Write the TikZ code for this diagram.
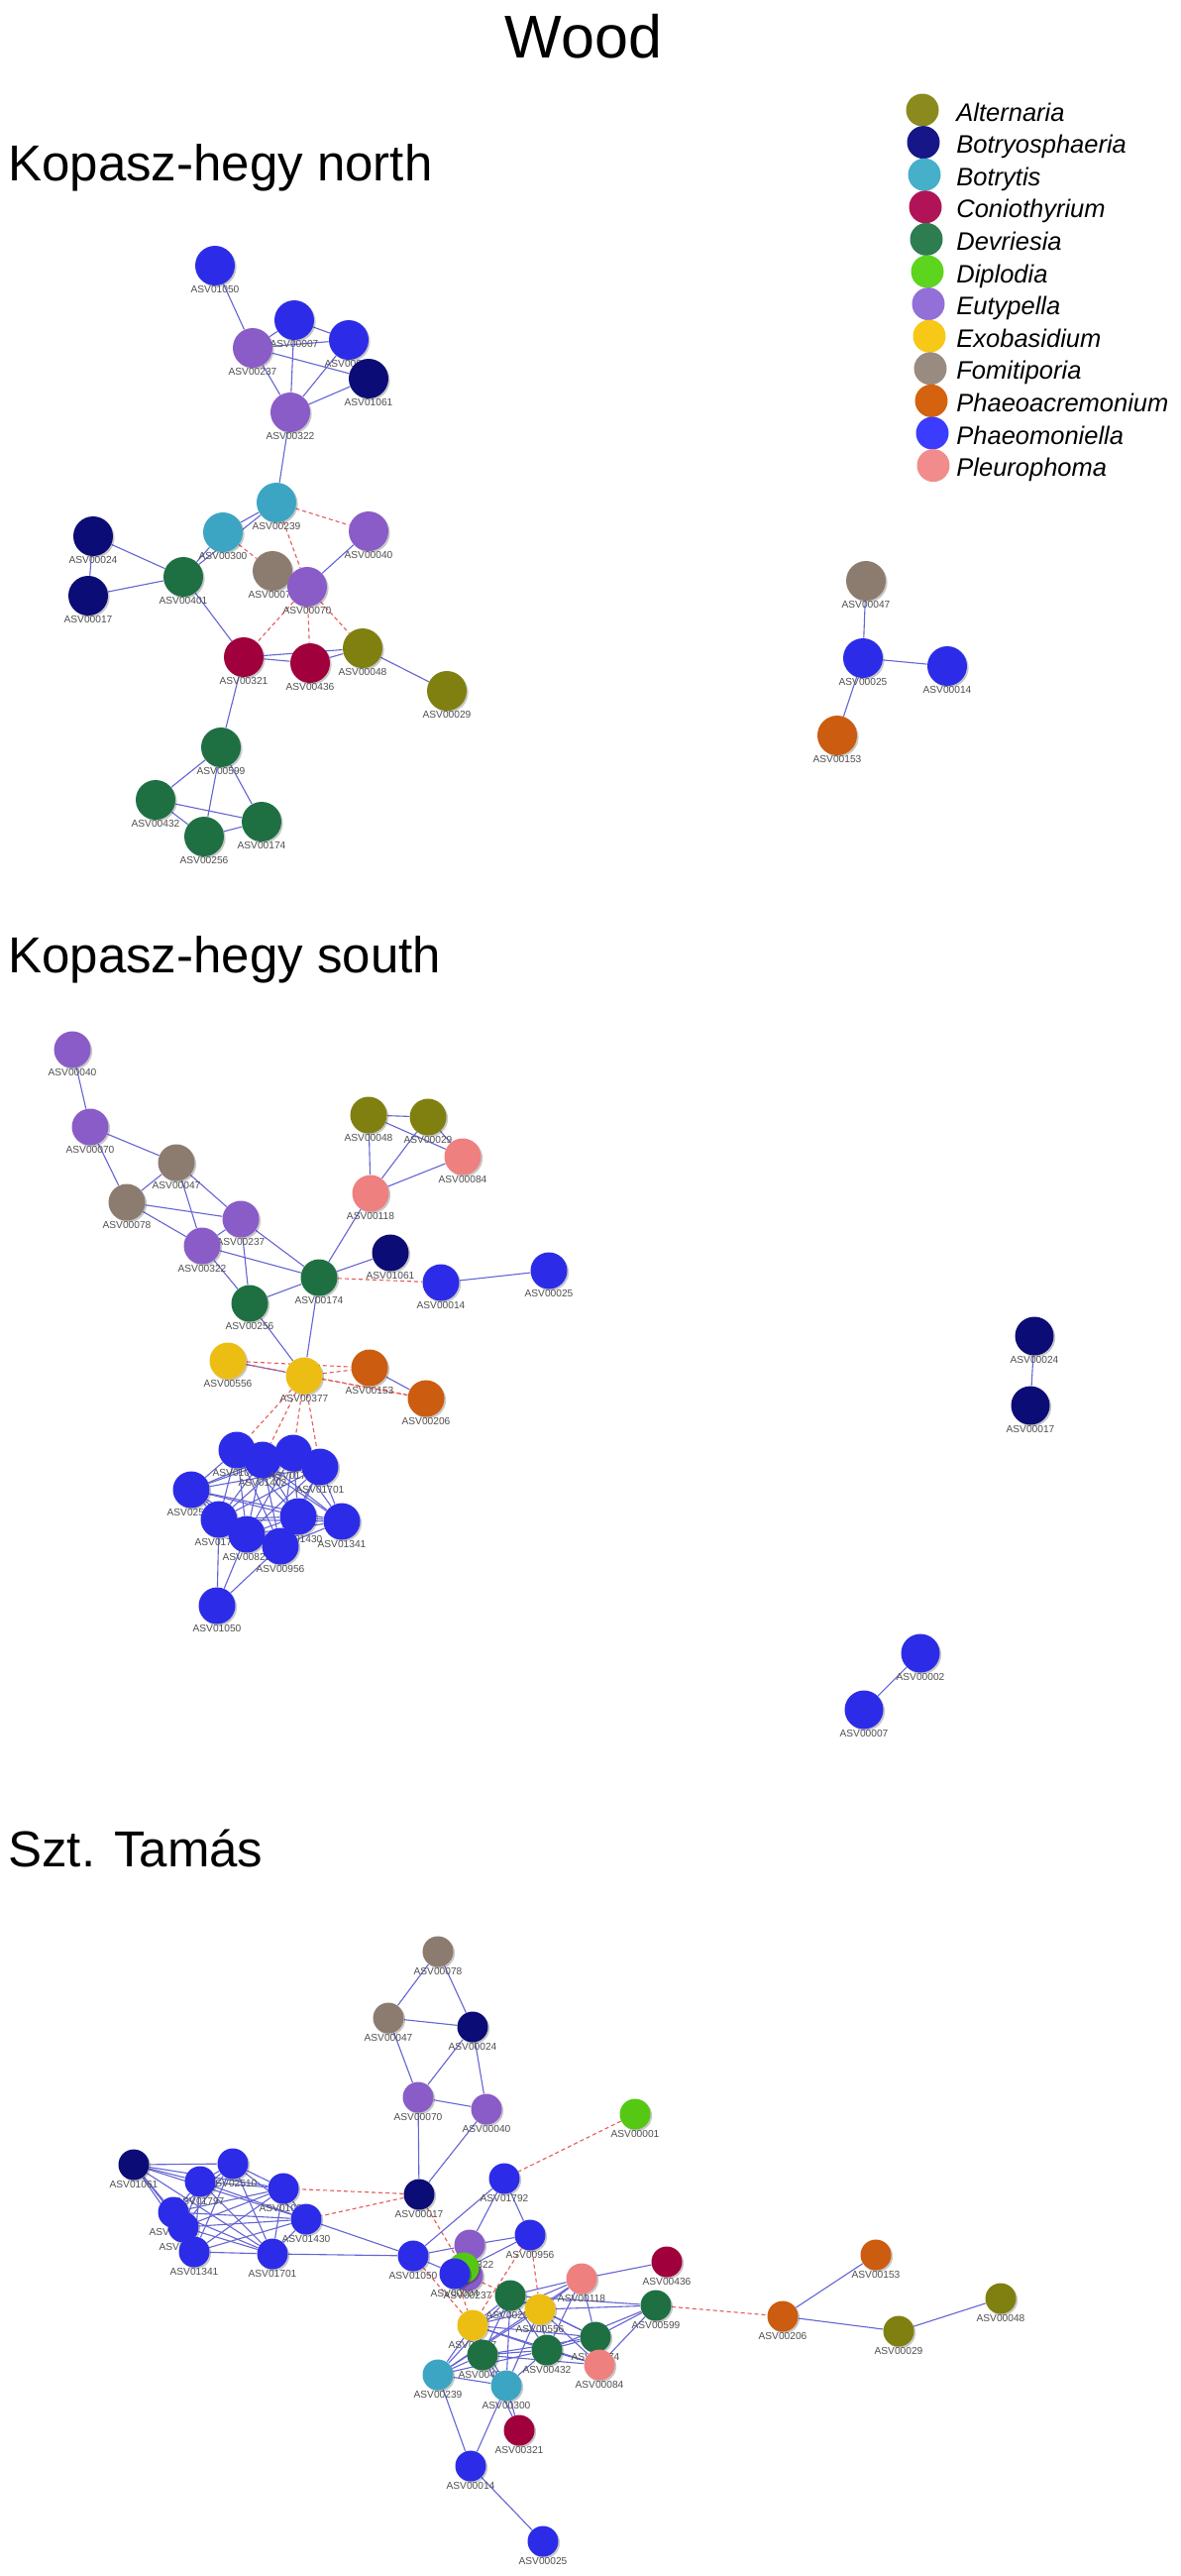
\documentclass[tikz,border=0pt]{standalone}
\usepackage{fontspec}
\setmainfont{Liberation Sans}
\usetikzlibrary{shadows}
\pgfdeclarelayer{bglayer}
\pgfdeclarelayer{edgelayer}
\pgfsetlayers{bglayer,edgelayer,main}
% network colours
\definecolor{alt}{RGB}{128,128,16}
\definecolor{bot}{RGB}{12,12,118}
\definecolor{btr}{RGB}{60,165,195}
\definecolor{con}{RGB}{160,0,60}
\definecolor{dev}{RGB}{30,112,66}
\definecolor{dip}{RGB}{85,200,20}
\definecolor{eut}{RGB}{138,92,200}
\definecolor{exo}{RGB}{236,190,20}
\definecolor{fom}{RGB}{140,124,112}
\definecolor{pac}{RGB}{204,92,16}
\definecolor{pmo}{RGB}{44,44,232}
\definecolor{ple}{RGB}{238,128,128}
% legend colours
\definecolor{lalt}{RGB}{138,138,30}
\definecolor{lbot}{RGB}{22,22,136}
\definecolor{lbtr}{RGB}{70,175,202}
\definecolor{lcon}{RGB}{176,20,86}
\definecolor{ldev}{RGB}{46,125,80}
\definecolor{ldip}{RGB}{93,212,30}
\definecolor{leut}{RGB}{147,112,216}
\definecolor{lexo}{RGB}{247,200,22}
\definecolor{lfom}{RGB}{154,139,128}
\definecolor{lpac}{RGB}{212,98,15}
\definecolor{lpmo}{RGB}{60,60,255}
\definecolor{lple}{RGB}{242,139,139}
\definecolor{edgeblue}{RGB}{100,100,212}
\definecolor{edgered}{RGB}{230,90,90}
\definecolor{labgray}{RGB}{80,80,80}
\begin{document}
\begin{tikzpicture}[x=0.5pt,y=-0.5pt,
  nd/.style={circle,inner sep=0pt,draw=none,drop shadow={shadow xshift=0.8pt,shadow yshift=-0.8pt,opacity=0.22,fill=black}},
  lab/.style={inner sep=0pt,text=labgray,font=\fontsize{5.1pt}{6pt}\selectfont},
  p1/.style={nd,minimum size=20pt,label distance=3.2pt},
  p2/.style={nd,minimum size=18.5pt,label distance=3.4pt},
  p3/.style={nd,minimum size=15.5pt,label distance=2.4pt},
  e/.style={draw=edgeblue,line width=0.55pt},
  d/.style={draw=edgered,line width=0.55pt,dash pattern=on 2pt off 1.5pt},
  ttl/.style={anchor=base west,inner sep=0pt,font=\fontsize{25.5pt}{30pt}\selectfont},
  legtxt/.style={anchor=base west,inner sep=0pt,font=\fontsize{12.75pt}{15pt}\selectfont\itshape}]
\begin{pgfonlayer}{bglayer}
\fill[white] (0,0) rectangle (1192,2599);
\end{pgfonlayer}
\useasboundingbox (0,0) rectangle (1192,2599);

% titles
\node[anchor=base,inner sep=0pt,font=\fontsize{30.5pt}{36pt}\selectfont] (title) at (589,58) {Wood};
\node[ttl] (t1) at (8,182) {Kopasz-hegy north};
\node[ttl] (t2) at (8,981) {Kopasz-hegy south};
\node[ttl] (t3) at (8,1883) {Szt. Tamás};

% legend
\foreach \nm/\col [count=\i from 0] in {Alternaria/lalt,Botryosphaeria/lbot,Botrytis/lbtr,Coniothyrium/lcon,Devriesia/ldev,Diplodia/ldip,Eutypella/leut,Exobasidium/lexo,Fomitiporia/lfom,Phaeoacremonium/lpac,Phaeomoniella/lpmo,Pleurophoma/lple}{
  \node[circle,inner sep=0pt,fill=\col,minimum size=16.5pt] (leg\i) at ({931+\i},{111+32.6*\i}) {};
  \node[legtxt] (legt\i) at (965,{122+32.6*\i}) {\nm};
}

% ================= Panel 1: Kopasz-hegy north =================
\node[p1,fill=pmo,label={[lab]below:ASV01050}] (a1050) at (217,268) {};
\node[p1,fill=pmo,label={[lab]below:ASV00007}] (a0007) at (297,323) {};
\node[p1,fill=pmo,label={[lab]below:ASV00002}] (a0002) at (352,343) {};
\node[p1,fill=eut,label={[lab]below:ASV00237}] (a0237) at (255,351) {};
\node[p1,fill=bot,label={[lab]below:ASV01061}] (a1061) at (372,382) {};
\node[p1,fill=eut,label={[lab]below:ASV00322}] (a0322) at (293,416) {};
\node[p1,fill=btr,label={[lab]below:ASV00239}] (a0239) at (279,507) {};
\node[p1,fill=btr,label={[lab]below:ASV00300}] (a0300) at (225,537) {};
\node[p1,fill=eut,label={[lab]below:ASV00040}] (a0040) at (372,536) {};
\node[p1,fill=bot,label={[lab]below:ASV00024}] (a0024) at (94,541) {};
\node[p1,fill=bot,label={[lab]below:ASV00017}] (a0017) at (89,601) {};
\node[p1,fill=dev,label={[lab]below:ASV00401}] (a0401) at (185,582) {};
\node[p1,fill=fom,label={[lab]below:ASV00078}] (a0078) at (275,576) {};
\node[p1,fill=eut,label={[lab]below:ASV00070}] (a0070) at (310,592) {};
\node[p1,fill=con,label={[lab]below:ASV00321}] (a0321) at (246,663) {};
\node[p1,fill=con,label={[lab]below:ASV00436}] (a0436) at (313,669) {};
\node[p1,fill=alt,label={[lab]below:ASV00048}] (a0048) at (366,654) {};
\node[p1,fill=alt,label={[lab]below:ASV00029}] (a0029) at (451,697) {};
\node[p1,fill=dev,label={[lab]below:ASV00599}] (a0599) at (223,754) {};
\node[p1,fill=dev,label={[lab]below:ASV00432}] (a0432) at (157,807) {};
\node[p1,fill=dev,label={[lab]below:ASV00174}] (a0174) at (264,829) {};
\node[p1,fill=dev,label={[lab]below:ASV00256}] (a0256) at (206,844) {};
% right component
\node[p1,fill=fom,label={[lab]below:ASV00047}] (r0047) at (874,586) {};
\node[p1,fill=pmo,label={[lab]below:ASV00025}] (r0025) at (871,664) {};
\node[p1,fill=pmo,label={[lab]below:ASV00014}] (r0014) at (956,672) {};
\node[p1,fill=pac,label={[lab]below:ASV00153}] (r0153) at (845,742) {};

\begin{pgfonlayer}{edgelayer}
\foreach \a/\b in {a1050/a0237,a0237/a0007,a0237/a0002,a0237/a1061,a0007/a0002,a0007/a0322,a0002/a0322,a1061/a0322,a0237/a0322,a0322/a0239,a0239/a0300,a0239/a0401,a0300/a0401,a0024/a0401,a0024/a0017,a0017/a0401,a0040/a0070,a0401/a0321,a0321/a0436,a0321/a0048,a0436/a0048,a0048/a0029,a0321/a0599,a0599/a0432,a0599/a0256,a0599/a0174,a0432/a0174,a0432/a0256,a0256/a0174,r0047/r0025,r0025/r0014,r0025/r0153}
  \draw[e] (\a) -- (\b);
\foreach \a/\b in {a0239/a0040,a0239/a0070,a0300/a0078,a0070/a0321,a0070/a0436,a0070/a0048}
  \draw[d] (\a) -- (\b);
\end{pgfonlayer}

% ================= Panel 2: Kopasz-hegy south =================
\node[p2,fill=eut,label={[lab]below:ASV00040}] (b0040) at (73,1059) {};
\node[p2,fill=eut,label={[lab]below:ASV00070}] (b0070) at (91,1137) {};
\node[p2,fill=fom,label={[lab]below:ASV00047}] (b0047) at (178,1173) {};
\node[p2,fill=fom,label={[lab]below:ASV00078}] (b0078) at (128,1213) {};
\node[p2,fill=eut,label={[lab]below:ASV00237}] (b0237) at (243,1230) {};
\node[p2,fill=eut,label={[lab]below:ASV00322}] (b0322) at (204,1257) {};
\node[p2,fill=dev,label={[lab]below:ASV00256}] (b0256) at (252,1315) {};
\node[p2,fill=dev,label={[lab]below:ASV00174}] (b0174) at (322,1289) {};
\node[p2,fill=alt,label={[lab]below:ASV00048}] (b0048) at (372,1125) {};
\node[p2,fill=alt,label={[lab]below:ASV00029}] (b0029) at (432,1127) {};
\node[p2,fill=ple,label={[lab]below:ASV00084}] (b0084) at (467,1167) {};
\node[p2,fill=ple,label={[lab]below:ASV00118}] (b0118) at (374,1204) {};
\node[p2,fill=bot,label={[lab]below:ASV01061}] (b1061) at (394,1264) {};
\node[p2,fill=pmo,label={[lab]below:ASV00014}] (b0014) at (445,1294) {};
\node[p2,fill=pmo,label={[lab]below:ASV00025}] (b0025) at (554,1282) {};
\node[p2,fill=exo,label={[lab]below:ASV00556}] (b0556) at (230,1373) {};
\node[p2,fill=exo,label={[lab]below:ASV00377}] (b0377) at (307,1388) {};
\node[p2,fill=pac,label={[lab]below:ASV00153}] (b0153) at (373,1380) {};
\node[p2,fill=pac,label={[lab]below:ASV00206}] (b0206) at (430,1411) {};
% Phaeomoniella cluster
\node[p2,fill=pmo,label={[lab]below:ASV01004}] (bA) at (239,1463) {};
\node[p2,fill=pmo,label={[lab]below:ASV01402}] (bB) at (265,1473) {};
\node[p2,fill=pmo,label={[lab]below:ASV01792}] (bC) at (296,1466) {};
\node[p2,fill=pmo,label={[lab]below:ASV01701}] (bD) at (323,1480) {};
\node[p2,fill=pmo,label={[lab]below:ASV02510}] (bE) at (193,1503) {};
\node[p2,fill=pmo,label={[lab]below:ASV01797}] (bF) at (221,1533) {};
\node[p2,fill=pmo,label={[lab]below:ASV01430}] (bH) at (301,1530) {};
\node[p2,fill=pmo,label={[lab]below:ASV00822}] (bG) at (249,1548) {};
\node[p2,fill=pmo,label={[lab]below:ASV01341}] (bI) at (345,1535) {};
\node[p2,fill=pmo,label={[lab]below:ASV00956}] (bJ) at (283,1560) {};
\node[p2,fill=pmo,label={[lab]below:ASV01050}] (bK) at (219,1620) {};
% right components
\node[p2,fill=bot,minimum size=19.5pt,label={[lab]below:ASV00024}] (s0024) at (1044,1348) {};
\node[p2,fill=bot,minimum size=19.5pt,label={[lab]below:ASV00017}] (s0017) at (1040,1418) {};
\node[p2,fill=pmo,minimum size=19.5pt,label={[lab]below:ASV00002}] (s0002) at (929,1668) {};
\node[p2,fill=pmo,minimum size=19.5pt,label={[lab]below:ASV00007}] (s0007) at (872,1725) {};

\begin{pgfonlayer}{edgelayer}
\foreach \a/\b in {b0040/b0070,b0070/b0047,b0070/b0078,b0047/b0078,b0047/b0322,b0047/b0237,b0078/b0237,b0078/b0322,b0237/b0322,b0237/b0256,b0237/b0174,b0322/b0174,b0322/b0256,b0256/b0174,b0174/b0118,b0174/b1061,b0014/b0025,b0048/b0029,b0048/b0084,b0048/b0118,b0029/b0118,b0029/b0084,b0118/b0084,b0174/b0377,b0256/b0377,b0556/b0377,b0153/b0206,bK/bF,bK/bG,bK/bJ,s0024/s0017,s0002/s0007}
  \draw[e] (\a) -- (\b);
\foreach \a [count=\i] in {bA,bB,bC,bD,bE,bF,bG,bH,bI,bJ}{
  \foreach \b [count=\j] in {bA,bB,bC,bD,bE,bF,bG,bH,bI,bJ}{
    \ifnum\j>\i \draw[e] (\a) -- (\b); \fi
  }
}
\foreach \a/\b in {b0174/b0014,b0556/b0153,b0377/b0153,b0377/b0206,b0556/b0206,b0377/bA,b0377/bB,b0377/bC,b0377/bD}
  \draw[d] (\a) -- (\b);
\end{pgfonlayer}

% ================= Panel 3: Szt. Tamas =================
\node[p3,fill=fom,label={[lab]below:ASV00078}] (c0078) at (442,1969) {};
\node[p3,fill=fom,label={[lab]below:ASV00047}] (c0047) at (392,2036) {};
\node[p3,fill=bot,label={[lab]below:ASV00024}] (c0024) at (477,2045) {};
\node[p3,fill=eut,label={[lab]below:ASV00070}] (c0070) at (422,2116) {};
\node[p3,fill=eut,label={[lab]below:ASV00040}] (c0040) at (491,2128) {};
\node[p3,fill=dip,label={[lab]below:ASV00001}] (c0001) at (641,2133) {};
\node[p3,fill=bot,label={[lab]below:ASV01061}] (c1061) at (135,2184) {};
\node[p3,fill=pmo,label={[lab]below:ASV02510}] (c2510) at (235,2183) {};
\node[p3,fill=pmo,label={[lab]below:ASV01797}] (c1797) at (202,2201) {};
\node[p3,fill=pmo,label={[lab]below:ASV01004}] (cX) at (286,2208) {};
\node[p3,fill=pmo,label={[lab]below:ASV01430}] (c1430) at (309,2239) {};
\node[p3,fill=pmo,label={[lab]below:ASV01792}] (cY) at (175,2232) {};
\node[p3,fill=pmo,label={[lab]below:ASV00822}] (cZ) at (185,2247) {};
\node[p3,fill=pmo,label={[lab]below:ASV01341}] (c1341) at (196,2272) {};
\node[p3,fill=pmo,label={[lab]below:ASV01701}] (c1701) at (275,2274) {};
\node[p3,fill=bot,label={[lab]below:ASV00017}] (c0017) at (423,2214) {};
\node[p3,fill=pmo,label={[lab]below:ASV01792}] (c1792) at (509,2198) {};
\node[p3,fill=pmo,label={[lab]below:ASV01050}] (c1050) at (417,2276) {};
\node[p3,fill=pmo,label={[lab]below:ASV00956}] (c0956) at (535,2255) {};
\node[p3,fill=eut,label={[lab]below:ASV00322}] (c0322) at (474,2265) {};
\node[p3,fill=eut,label={[lab]below:ASV00237}] (c0237) at (472,2296) {};
\node[p3,fill=dip] (cDip) at (468,2288) {};
\node[p3,fill=pmo,label={[lab]below:ASV00004}] (c0004) at (459,2294) {};
\node[p3,fill=con,label={[lab]below:ASV00436}] (c0436) at (673,2282) {};
\node[p3,fill=ple,label={[lab]below:ASV00118}] (c0118) at (587,2299) {};
\node[p3,fill=dev,label={[lab]below:ASV00256}] (c0256) at (515,2316) {};
\node[p3,fill=exo,label={[lab]below:ASV00556}] (c0556) at (545,2330) {};
\node[p3,fill=dev,label={[lab]below:ASV00599}] (c0599) at (662,2326) {};
\node[p3,fill=exo,label={[lab]below:ASV00377}] (c0377) at (477,2346) {};
\node[p3,fill=dev,label={[lab]below:ASV00174}] (c0174) at (601,2358) {};
\node[p3,fill=dev,label={[lab]below:ASV00432}] (c0432) at (552,2371) {};
\node[p3,fill=dev,label={[lab]below:ASV00401}] (c0401) at (487,2376) {};
\node[p3,fill=ple,label={[lab]below:ASV00084}] (c0084) at (605,2386) {};
\node[p3,fill=btr,label={[lab]below:ASV00239}] (c0239) at (442,2396) {};
\node[p3,fill=btr,label={[lab]below:ASV00300}] (c0300) at (511,2407) {};
\node[p3,fill=con,label={[lab]below:ASV00321}] (c0321) at (524,2452) {};
\node[p3,fill=pmo,label={[lab]below:ASV00014}] (c0014) at (475,2488) {};
\node[p3,fill=pmo,label={[lab]below:ASV00025}] (c0025) at (548,2564) {};
\node[p3,fill=pac,label={[lab]below:ASV00206}] (c0206) at (790,2337) {};
\node[p3,fill=pac,label={[lab]below:ASV00153}] (c0153) at (884,2275) {};
\node[p3,fill=alt,label={[lab]below:ASV00029}] (c0029) at (907,2352) {};
\node[p3,fill=alt,label={[lab]below:ASV00048}] (c0048) at (1010,2319) {};

\begin{pgfonlayer}{edgelayer}
\foreach \a/\b in {c0078/c0047,c0078/c0024,c0047/c0024,c0047/c0070,c0024/c0070,c0024/c0040,c0070/c0040,c0070/c0017,c0040/c0017,c1430/c1050,c1701/c1050,c1050/c1792,c1050/c0322,c1050/c0004,c1792/c0322,c1792/c0956,c0322/c0956,c0004/c0956,c0239/c0377,c0239/c0256,c0239/c0556,c0239/c0401,c0239/c0432,c0239/c0300,c0239/c0118,c0300/c0377,c0300/c0256,c0300/c0556,c0300/c0401,c0300/c0432,c0300/c0321,c0401/c0321,c0377/c0256,c0377/c0556,c0377/c0401,c0377/c0432,c0377/c0174,c0377/c0084,c0377/c0118,c0256/c0556,c0256/c0401,c0256/c0432,c0256/c0118,c0256/c0174,c0256/c0599,c0556/c0432,c0556/c0174,c0556/c0084,c0556/c0118,c0556/c0599,c0401/c0432,c0401/c0174,c0401/c0084,c0432/c0174,c0432/c0084,c0432/c0599,c0432/c0118,c0174/c0084,c0174/c0599,c0174/c0118,c0084/c0599,c0118/c0436,c0239/c0014,c0300/c0014,c0014/c0025,c0206/c0153,c0206/c0029,c0029/c0048}
  \draw[e] (\a) -- (\b);
\foreach \a [count=\i] in {c1061,c1797,c2510,cX,c1430,cY,cZ,c1341,c1701}{
  \foreach \b [count=\j] in {c1061,c1797,c2510,cX,c1430,cY,cZ,c1341,c1701}{
    \ifnum\j>\i \draw[e] (\a) -- (\b); \fi
  }
}
\foreach \a/\b in {c0001/c1792,c0017/cX,c0017/c1430,c0017/c0237,c1050/c0377,c0237/c0256,c0004/c0377,c0956/c0377,c0956/c0556,c0599/c0206}
  \draw[d] (\a) -- (\b);
\end{pgfonlayer}
\end{tikzpicture}
\end{document}
